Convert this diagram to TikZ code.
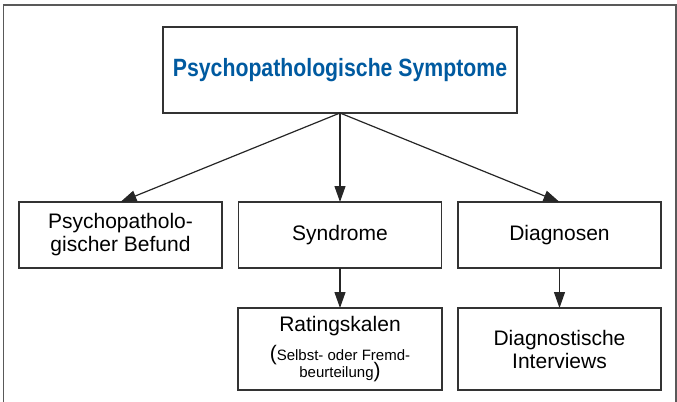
\documentclass[tikz,border=0pt]{standalone}
\usepackage{fontspec}
\setmainfont{Liberation Sans}
\newfontfamily\titlefont[FakeStretch=0.85]{Liberation Sans}
\usetikzlibrary{arrows.meta}
\definecolor{symblue}{RGB}{0,90,160}
\begin{document}
\begin{tikzpicture}[x=0.5pt,y=-0.5pt,
  every node/.style={draw=black!80,line width=0.75pt,inner sep=0pt,outer sep=0pt,
    align=center,font=\fontsize{10.5}{11.5}\selectfont},
  arr/.style={draw=black!85,line width=0.6pt,-{Triangle[length=8pt,width=5.5pt]}}]
\useasboundingbox (0,0) rectangle (677,402);
% frame
\draw[black!65,line width=0.75pt] (3.5,410) -- (3.5,5) -- (676,5) -- (676,410);

\node[minimum width=177pt,minimum height=43pt,text=symblue,
  font=\titlefont\bfseries\fontsize{12.5}{14}\selectfont] (top) at (340,70) {Psychopathologische Symptome};

\foreach \n/\x/\txt in {befund/120.5/{Psychopatholo-\\gischer Befund},syndrome/340/Syndrome,diagnosen/559.5/Diagnosen}
\node[minimum width=101.5pt,minimum height=33pt] (\n) at (\x,235) {\txt};

\node[minimum width=102pt,minimum height=41pt] (rating) at (340,349)
  {Ratingskalen\\[3pt]{\fontsize{10.5}{9}\selectfont(}{\fontsize{7.5}{9}\selectfont Selbst- oder Fremd-}\\[-3pt]{\fontsize{7.5}{9}\selectfont beurteilung}{\fontsize{10.5}{9}\selectfont)}};
\node[minimum width=101.5pt,minimum height=41pt] (interviews) at (559.5,349) {Diagnostische\\Interviews};

\draw[arr] (top.south) -- (befund.north);
\draw[arr] (top.south) -- (syndrome.north);
\draw[arr] (top.south) -- (diagnosen.north);
\draw[arr] (syndrome) -- (rating);
\draw[arr] (diagnosen) -- (interviews);
\end{tikzpicture}
\end{document}
